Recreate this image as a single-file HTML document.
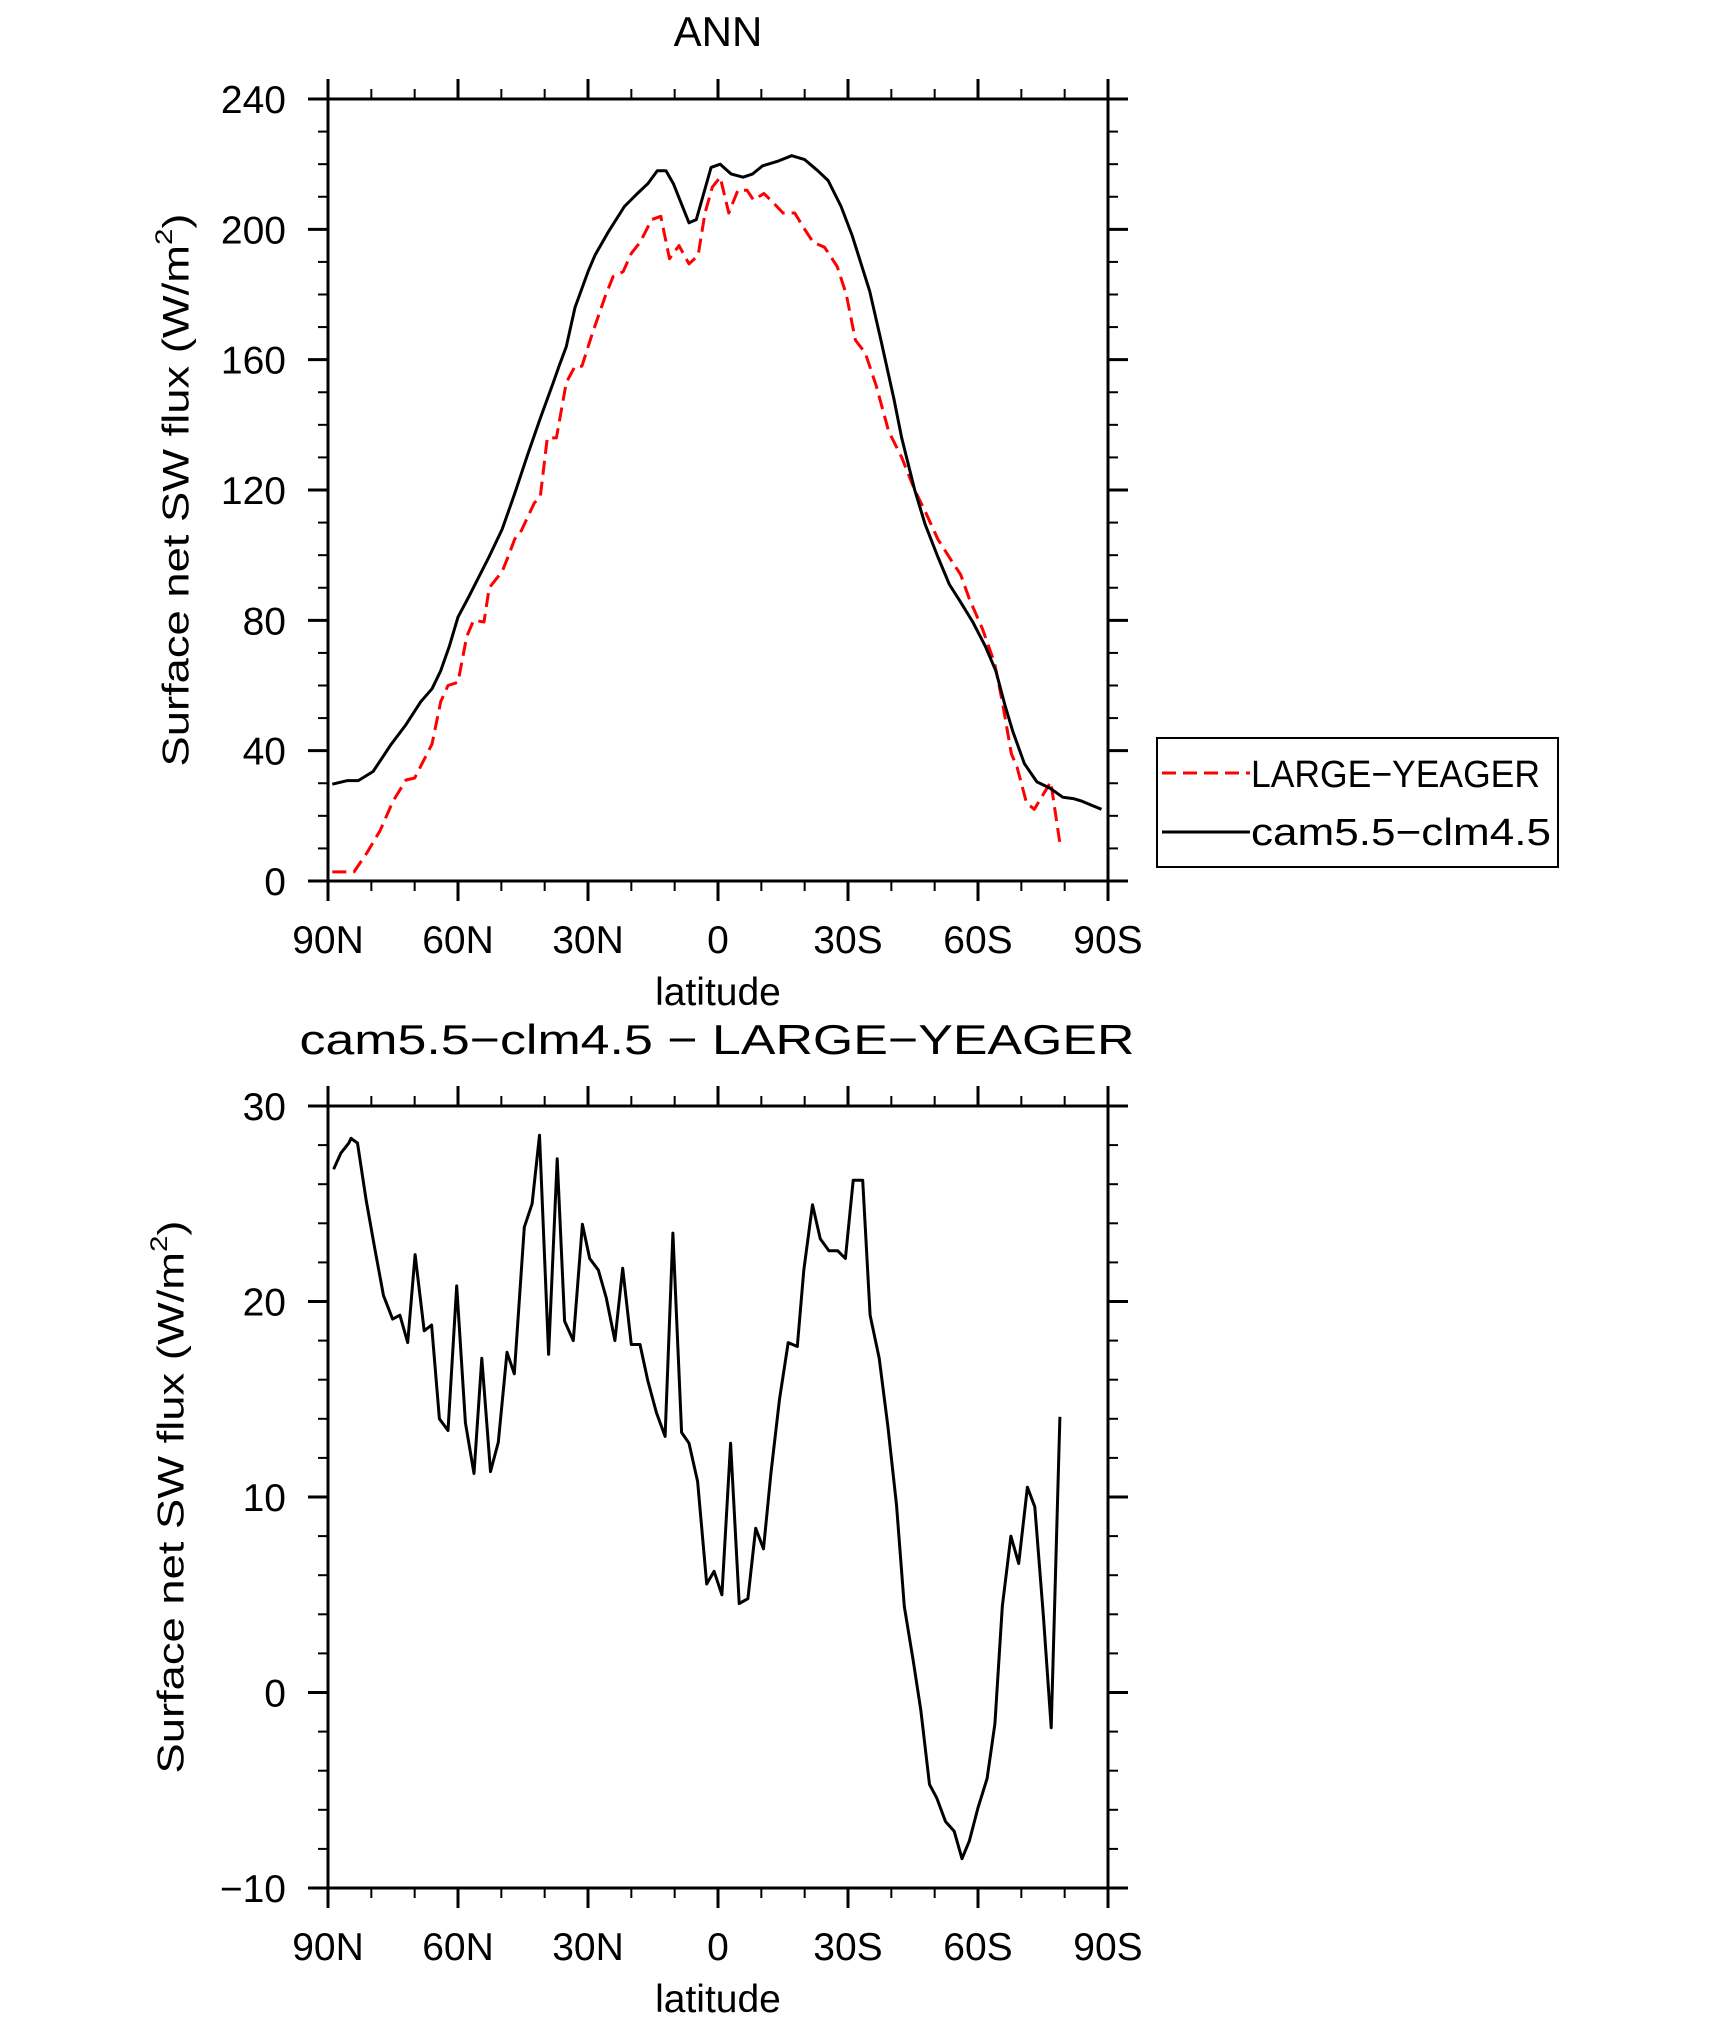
<!DOCTYPE html>
<html><head><meta charset="utf-8"><style>
html,body{margin:0;padding:0;background:#fff}
svg text{font-family:"Liberation Sans",sans-serif;fill:#000}
</style></head><body>
<svg id="fig" width="1710" height="2021" viewBox="0 0 1710 2021" xmlns="http://www.w3.org/2000/svg">
<rect width="1710" height="2021" fill="#fff"/>
<text x="718" y="46" font-size="42" text-anchor="middle">ANN</text>
<text x="717" y="1054" font-size="42" text-anchor="middle" textLength="835" lengthAdjust="spacingAndGlyphs">cam5.5−clm4.5 − LARGE−YEAGER</text>
<g id="top"></g>
<g id="bot"></g>
<g>
<rect x="1157" y="738" width="401" height="129" fill="none" stroke="#000" stroke-width="2"/>
<line x1="1162" y1="773" x2="1250" y2="773" stroke="#f00" stroke-width="3" stroke-dasharray="14,7"/>
<text x="1251" y="787" font-size="38" textLength="289" lengthAdjust="spacingAndGlyphs">LARGE−YEAGER</text>
<line x1="1162" y1="832" x2="1250" y2="832" stroke="#000" stroke-width="3"/>
<text x="1251" y="845" font-size="38" textLength="300" lengthAdjust="spacingAndGlyphs">cam5.5−clm4.5</text>
</g>
</svg>
<script>
const camLat=[89,85.5,83,79.6,75.4,72,68.6,66,64,62,60,57.6,52.8,49.8,46.9,43.9,41,38,36.7,35,33,30,28.4,25.4,21.6,18.6,16.2,14,12,10.3,6.7,5,1.6,-0.5,-3,-5.8,-8,-10.3,-14,-17,-20,-23,-25.4,-28.4,-31,-35,-37.6,-40.6,-42.4,-45.4,-47.8,-50.7,-53.4,-55.8,-58.8,-61.7,-64.1,-66.2,-68,-70.7,-73.6,-76.6,-79.6,-82,-84,-86.7,-88.5];
const camVal=[29.7,30.8,30.8,33.6,42,48,55,59,64.5,72,81,87,99.6,108,119,131,142,153,158,164,176,187,192,199,207,211,214,218,218,214,202,203,219,220,217,216,217,219.5,221,222.6,221.4,218,215,207,198,181,166,148,136,120,109.5,99.6,91,86,79.5,72,64.5,54,46,36,30.4,28.5,25.7,25.3,24.5,23,22];
const lyLat=[89,84,81,78,75,72,70,66,64,62.3,60,58,56.4,54,52.8,49.8,48.3,46.9,45.4,42.4,41,39.4,37.3,35,33,31.4,29,26,24.2,21.9,20,18,15.3,13.2,11.2,9,6.7,4.6,3,1.3,-0.5,-2.5,-4.6,-6.7,-8.2,-10.6,-12.6,-15,-17.7,-20,-22,-24.6,-27.5,-29.6,-31.7,-34,-36.5,-39.4,-42.4,-45.4,-47.8,-50.7,-53.8,-56,-58,-61,-63.8,-65.6,-67.7,-69,-71.2,-73,-75,-76.8,-79];
const lyVal=[2.8,2.8,8.7,15.4,24.5,31,31.6,42,55,60,61,75,80,79.5,90,95,100,105,107.5,116,118,136,136,153,158,158,168,179.5,185.5,187,192.6,196,203,204,191,195,189.4,192,205,213,216,205,212,212,209,211,208.4,205,205,200,196,194.5,188.6,180,166,162,152,138,130,120,113.5,105,98.5,94,86.6,77.5,67,55,39,35,24,22,26.5,30.4,10.7];
const diffLat=[88.7,87,85.2,84.7,83.2,81.2,79.2,77.2,75.1,73.4,71.6,69.9,67.8,66.1,64.3,62.3,60.3,58.3,56.3,54.5,52.5,50.7,48.7,47,44.7,42.9,41.2,39.1,37.1,35.4,33.4,31.3,29.6,27.6,25.8,23.8,22,20,18,16.2,14.2,12.2,10.4,8.4,6.7,4.7,2.6,0.9,-0.9,-2.9,-4.9,-6.9,-8.7,-10.5,-12.2,-14.2,-16.2,-18.3,-19.8,-21.8,-23.6,-25.6,-27.6,-29.4,-31.2,-33.4,-35.1,-37.2,-39.2,-41.2,-43,-45,-46.8,-48.8,-50.5,-52.5,-54.5,-56.3,-58,-60,-62.1,-63.9,-65.6,-67.6,-69.4,-71.4,-73.1,-75.1,-76.9,-78.9];
const diffVal=[26.76,27.6,28.1,28.35,28.1,25.2,22.7,20.3,19.1,19.3,17.9,22.4,18.5,18.8,14.0,13.4,20.8,13.8,11.2,17.1,11.3,12.8,17.4,16.3,23.8,25.0,28.5,17.3,27.3,19.0,18.0,23.95,22.2,21.6,20.2,18.0,21.7,17.8,17.8,15.95,14.3,13.1,23.5,13.3,12.75,10.8,5.55,6.2,5.0,12.75,4.55,4.8,8.4,7.35,11.2,15.0,17.9,17.7,21.6,24.95,23.2,22.6,22.6,22.2,26.2,26.2,19.3,17.1,13.6,9.6,4.4,1.7,-0.9,-4.7,-5.4,-6.6,-7.1,-8.5,-7.6,-5.9,-4.4,-1.6,4.4,8.0,6.6,10.5,9.5,3.9,-1.8,14.1];
const xTickLabels=["90N","60N","30N","0","30S","60S","90S"];
const topYTicks=[0,40,80,120,160,200,240];
const botYTicks=[-10,0,10,20,30];

const NS="http://www.w3.org/2000/svg";
const L=328,R=1108,W=R-L;
function mk(parent,tag,attrs){const e=document.createElementNS(NS,tag);for(const k in attrs)e.setAttribute(k,attrs[k]);parent.appendChild(e);return e;}
function panel(g,top,ymin,ymax,yMajors,minorStep,series,tag){
  const bot=top+782;
  const xs=lat=>L+(90-lat)/180*W;
  const ys=v=>bot-(v-ymin)/(ymax-ymin)*782;
  // minor ticks
  for(let lat=90;lat>=-90;lat-=10){
    const x=xs(lat);const major=(lat%30===0);const len=major?20:10;
    let t=mk(g,'line',{x1:x,y1:top,x2:x,y2:top-len,stroke:'#000','stroke-width':major?3:2});
    
    t=mk(g,'line',{x1:x,y1:bot,x2:x,y2:bot+len,stroke:'#000','stroke-width':major?3:2});
    
  }
  for(let v=ymin;v<=ymax+1e-9;v+=minorStep){
    const y=ys(v);const major=yMajors.some(m=>Math.abs(m-v)<1e-6);const len=major?20:10;
    let t=mk(g,'line',{x1:L,y1:y,x2:L-len,y2:y,stroke:'#000','stroke-width':major?3:2});
    
    t=mk(g,'line',{x1:R,y1:y,x2:R+len,y2:y,stroke:'#000','stroke-width':major?3:2});
    
  }
  const fr=mk(g,'rect',{x:L,y:top,width:W,height:782,fill:'none',stroke:'#000','stroke-width':3});
  
  xTickLabels.forEach((s,i)=>{
    const t=mk(g,'text',{x:L+i*W/6,y:bot+72,'font-size':39,'text-anchor':'middle'});t.textContent=s;
    
  });
  yMajors.forEach(v=>{
    const t=mk(g,'text',{x:286,y:ys(v)+14,'font-size':39,'text-anchor':'end'});t.textContent=(v<0?'−'+(-v):String(v));
    
  });
  let t=mk(g,'text',{x:718,y:bot+124,'font-size':39,'text-anchor':'middle'});t.textContent='latitude';
  
  const cy=top+391, cx=(tag==='top'?176:171);
  t=mk(g,'text',{x:cx,y:cy,'font-size':37,'text-anchor':'middle','dominant-baseline':'central',transform:`rotate(-90 ${cx} ${cy})`,textLength:553,lengthAdjust:'spacingAndGlyphs'});
  t.textContent='Surface net SW flux (W/m';
  const sup=document.createElementNS(NS,'tspan');sup.setAttribute('font-size','24');sup.setAttribute('dy','-12');sup.textContent='2';t.appendChild(sup);
  const cl=document.createElementNS(NS,'tspan');cl.setAttribute('dy','12');cl.textContent=')';t.appendChild(cl);
  
  series.forEach(s=>{
    const d=s.lat.map((la,i)=>(i?'L':'M')+xs(la).toFixed(1)+','+ys(s.val[i]).toFixed(1)).join('');
    const p=mk(g,'path',{d:d,fill:'none',stroke:s.color,'stroke-width':3,'stroke-linejoin':'round','stroke-dasharray':s.dash||'none'});
    
    
  });
}
panel(document.getElementById('top'),99,0,240,topYTicks,10,[
  {lat:lyLat,val:lyVal,color:'#f00',dash:'14,7',name:'large-yeager-line'},
  {lat:camLat,val:camVal,color:'#000',name:'cam-clm-line'}],'top');
panel(document.getElementById('bot'),1106,-10,30,botYTicks,2,[
  {lat:diffLat,val:diffVal,color:'#000',name:'difference-line'}],'bot');
</script>
</body></html>
